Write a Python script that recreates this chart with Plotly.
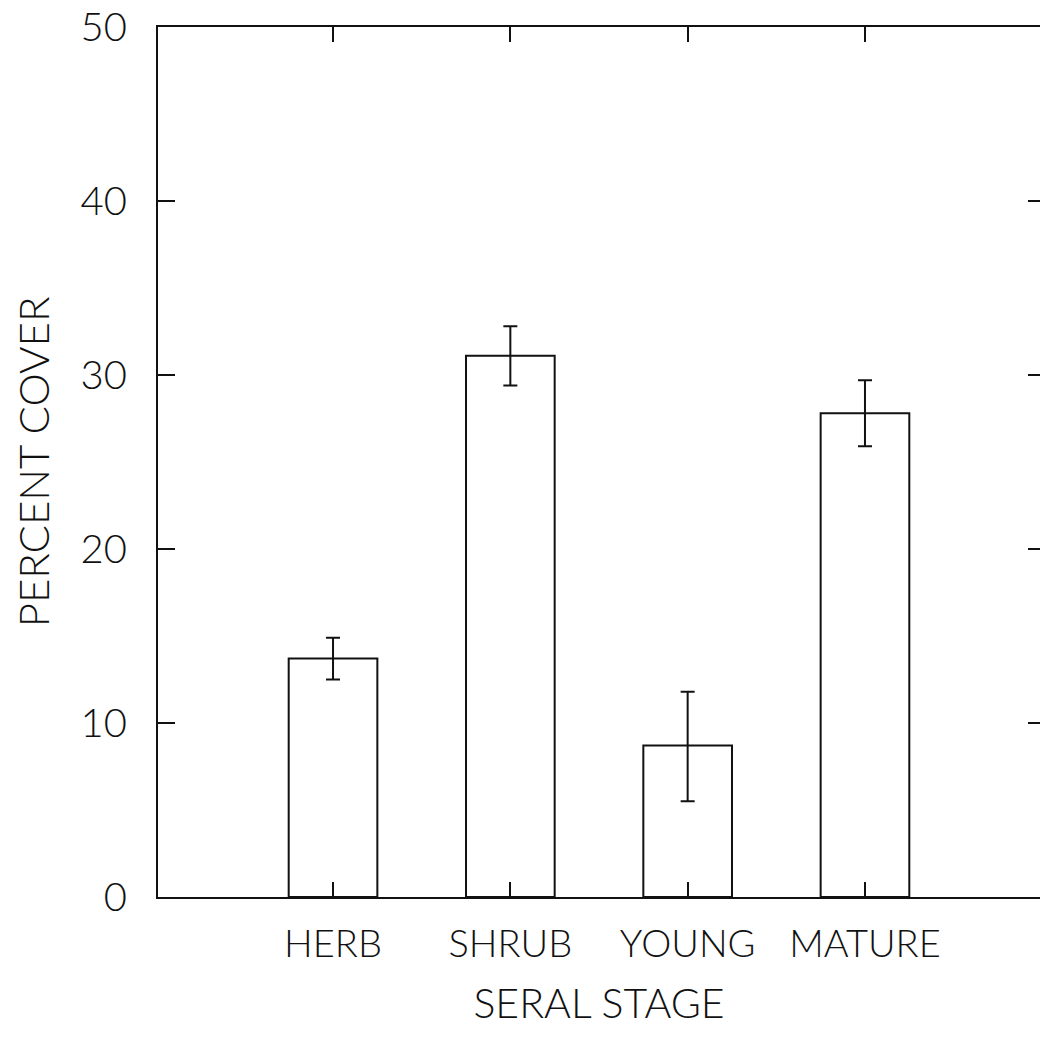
import plotly.graph_objects as go

categories = ["HERB", "SHRUB", "YOUNG", "MATURE"]
positions = [1, 2, 3, 4]
cover = [13.7, 31.1, 8.7, 27.8]
err_upper = [1.2, 1.7, 3.1, 1.9]
err_lower = [1.2, 1.7, 3.2, 1.9]
y_ticks = [0, 10, 20, 30, 40, 50]

FONT = "Lato"
W = 300
INK = "#111111"

fig = go.Figure()
fig.add_trace(go.Bar(
    x=positions, y=cover, width=0.5,
    marker=dict(color="white", line=dict(color=INK, width=2)),
    error_y=dict(type="data", array=err_upper, arrayminus=err_lower,
                 color=INK, thickness=2, width=7, symmetric=False),
    showlegend=False,
))
# invisible trace carrying the right-hand tick axis
fig.add_trace(go.Scatter(x=positions, y=cover, yaxis="y2", mode="markers",
                         marker=dict(opacity=0), showlegend=False, hoverinfo="skip"))

fig.update_layout(
    width=1040, height=1038,
    margin=dict(l=158, r=0, t=27, b=141, autoexpand=False),
    paper_bgcolor="white", plot_bgcolor="white",
    font=dict(family=FONT, color=INK, weight=W),
    xaxis=dict(
        range=[0.013, 4.987], tickvals=positions, ticktext=categories,
        ticks="inside", ticklen=15, tickwidth=2, tickcolor=INK,
        showline=True, linewidth=2, linecolor=INK, mirror="ticks",
        showgrid=False, zeroline=False,
        tickfont=dict(size=38, family=FONT, color=INK, weight=W),
        ticklabelstandoff=12,
        title=dict(text="SERAL STAGE", font=dict(size=41, family=FONT, color=INK, weight=W), standoff=26),
    ),
    yaxis=dict(
        range=[0, 50], tickvals=y_ticks,
        ticks="inside", ticklen=17, tickwidth=2, tickcolor=INK,
        showline=True, linewidth=2, linecolor=INK, mirror=False,
        showgrid=False, zeroline=False,
        tickfont=dict(size=40, family=FONT, color=INK, weight=W),
        ticklabelstandoff=21,
        title=dict(text="PERCENT COVER", font=dict(size=42, family=FONT, color=INK, weight=W), standoff=18),
    ),
    yaxis2=dict(
        range=[0, 50], tickvals=[10, 20, 30, 40], overlaying="y", side="right",
        ticks="inside", ticklen=12, tickwidth=2, tickcolor=INK,
        showline=False, showgrid=False, zeroline=False, showticklabels=False,
    ),
)

fig.write_html("out.html")
